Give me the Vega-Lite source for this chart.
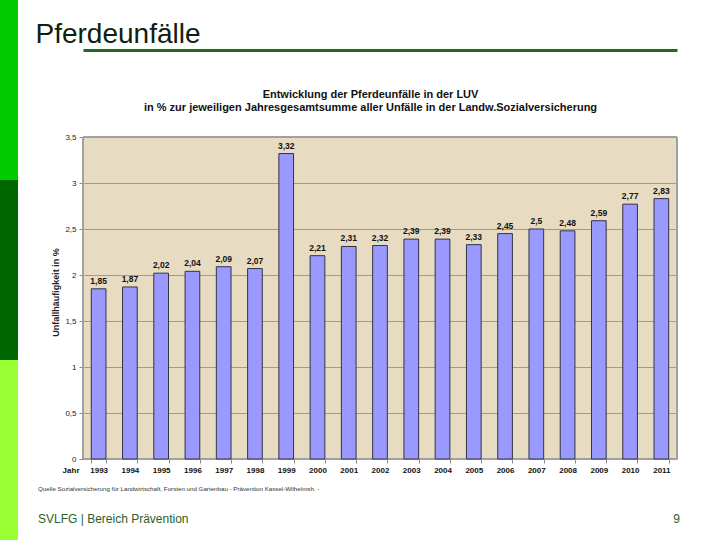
{
  "$schema": "https://vega.github.io/schema/vega-lite/v6.json",
  "background": "white",
  "padding": 0,
  "spacing": 17,
  "config": {
    "locale": {"number": {"decimal": ",", "thousands": ".", "grouping": [3], "currency": ["", " €"]}},
    "view": {"stroke": null},
    "font": "Liberation Sans"
  },
  "hconcat": [
    {
      "width": 18,
      "height": 540,
      "view": {"stroke": null},
      "data": {"values": [{"Abschnitt": "oben"}, {"Abschnitt": "mitte"}, {"Abschnitt": "unten"}]},
      "mark": {"type": "rect"},
      "encoding": {
        "y": {"field": "Abschnitt", "type": "nominal", "sort": ["oben", "mitte", "unten"], "scale": {"paddingInner": 0, "paddingOuter": 0}, "axis": null},
        "color": {"field": "Abschnitt", "type": "nominal", "scale": {"domain": ["oben", "mitte", "unten"], "range": ["#00cc00", "#006600", "#99ff33"]}, "legend": null}
      }
    },
    {
      "width": 594,
      "height": 540,
      "view": {
        "stroke": null,
        "fill": {
          "gradient": "linear", "x1": 0, "y1": 0, "x2": 0, "y2": 1,
          "stops": [
            {"offset": 0, "color": "#ffffff"},
            {"offset": 0.2537, "color": "#ffffff"},
            {"offset": 0.2537, "color": "#e7dbc1"},
            {"offset": 0.85, "color": "#e7dbc1"},
            {"offset": 0.85, "color": "#ffffff"},
            {"offset": 1, "color": "#ffffff"}
          ]
        }
      },
      "title": {
        "text": "Quelle Sozialversicherung für Landwirtschaft, Forsten und Gartenbau - Prävention Kassel-Wilhelmsh. -",
        "subtitle": "SVLFG | Bereich Prävention",
        "orient": "bottom",
        "anchor": "start",
        "frame": "group",
        "dx": -45,
        "offset": -54,
        "baseline": "top",
        "font": "Liberation Sans",
        "fontSize": 6.2,
        "fontWeight": "normal",
        "color": "#333333",
        "subtitleFont": "Liberation Sans",
        "subtitleFontSize": 12,
        "subtitleColor": "#2a5e2a",
        "subtitlePadding": 22
      },
      "data": {
        "values": [
          {"Jahr": "1993", "Wert": 1.85},
          {"Jahr": "1994", "Wert": 1.87},
          {"Jahr": "1995", "Wert": 2.02},
          {"Jahr": "1996", "Wert": 2.04},
          {"Jahr": "1997", "Wert": 2.09},
          {"Jahr": "1998", "Wert": 2.07},
          {"Jahr": "1999", "Wert": 3.32},
          {"Jahr": "2000", "Wert": 2.21},
          {"Jahr": "2001", "Wert": 2.31},
          {"Jahr": "2002", "Wert": 2.32},
          {"Jahr": "2003", "Wert": 2.39},
          {"Jahr": "2004", "Wert": 2.39},
          {"Jahr": "2005", "Wert": 2.33},
          {"Jahr": "2006", "Wert": 2.45},
          {"Jahr": "2007", "Wert": 2.5},
          {"Jahr": "2008", "Wert": 2.48},
          {"Jahr": "2009", "Wert": 2.59},
          {"Jahr": "2010", "Wert": 2.77},
          {"Jahr": "2011", "Wert": 2.83}
        ]
      },
      "layer": [
        {
          "mark": {"type": "rect", "filled": false, "stroke": "#a0a0a0", "strokeWidth": 1},
          "encoding": {
            "y": {
              "datum": 0, "type": "quantitative",
              "scale": {"domain": [0, 3.5], "range": [459, 137], "nice": false, "zero": true},
              "axis": {
                "orient": "left",
                "values": [0, 0.5, 1, 1.5, 2, 2.5, 3, 3.5],
                "format": ".1~f",
                "grid": true, "gridColor": "#a69a80", "gridWidth": 1,
                "domain": false,
                "tickSize": 4, "tickColor": "#888888",
                "labelFontSize": 8, "labelColor": "#222222", "labelPadding": 3,
                "title": "Unfallhäufigkeit in %",
                "titleFontSize": 9, "titleFontWeight": "bold", "titleColor": "#222222",
                "titleAngle": 270, "titleX": -28, "titleY": 292,
                "titleAlign": "center", "titleBaseline": "middle"
              }
            },
            "y2": {"datum": 3.5}
          }
        },
        {
          "mark": {"type": "bar", "fill": "#9999ff", "stroke": "#333344", "strokeWidth": 1},
          "encoding": {
            "x": {
              "field": "Jahr", "type": "ordinal",
              "scale": {"paddingInner": 0.53, "paddingOuter": 0.265},
              "axis": {
                "orient": "bottom", "offset": -81,
                "labelAngle": 0, "labelFontSize": 8, "labelFontWeight": "bold", "labelColor": "#111111", "labelPadding": 3,
                "tickBand": "extent", "tickSize": 4, "tickColor": "#888888",
                "domain": false, "grid": false,
                "title": "Jahr", "titleFontSize": 8, "titleFontWeight": "bold", "titleColor": "#111111",
                "titleX": -4, "titleY": 13, "titleAlign": "right", "titleBaseline": "alphabetic"
              }
            },
            "y": {
              "field": "Wert", "type": "quantitative",
              "axis": {
                "orient": "right", "labels": false, "ticks": false, "domain": false, "grid": false,
                "title": "9", "titleAngle": 0, "titleX": -1, "titleY": 522,
                "titleAlign": "center", "titleBaseline": "alphabetic",
                "titleFontSize": 12, "titleFontWeight": "normal", "titleColor": "#2a5e2a"
              }
            }
          }
        },
        {
          "mark": {"type": "text", "baseline": "bottom", "dy": -3, "fontSize": 8.5, "fontWeight": "bold", "color": "#111111"},
          "encoding": {
            "x": {
              "field": "Jahr", "type": "ordinal",
              "axis": {
                "orient": "top", "offset": -50,
                "labels": false, "ticks": false, "grid": false,
                "domain": true, "domainColor": "#1f6b1f", "domainWidth": 3,
                "title": ["Entwicklung der Pferdeunfälle in der LUV", "in % zur jeweiligen Jahresgesamtsumme aller Unfälle in der Landw.Sozialversicherung"],
                "titleX": 287, "titleY": 47, "titleAlign": "center", "titleBaseline": "alphabetic",
                "titleFontSize": 11, "titleFontWeight": "bold", "titleColor": "#111111", "titleLineHeight": 13
              }
            },
            "y": {
              "field": "Wert", "type": "quantitative",
              "axis": {
                "orient": "left", "labels": false, "ticks": false, "domain": false, "grid": false,
                "title": "Pferdeunfälle", "titleAngle": 0, "titleX": -48, "titleY": 42,
                "titleAlign": "left", "titleBaseline": "alphabetic",
                "titleFontSize": 28, "titleFontWeight": "normal", "titleColor": "#0f200f"
              }
            },
            "text": {"field": "Wert", "type": "quantitative", "format": ".2~f"}
          }
        }
      ],
      "resolve": {"axis": {"x": "independent", "y": "independent"}}
    }
  ]
}
